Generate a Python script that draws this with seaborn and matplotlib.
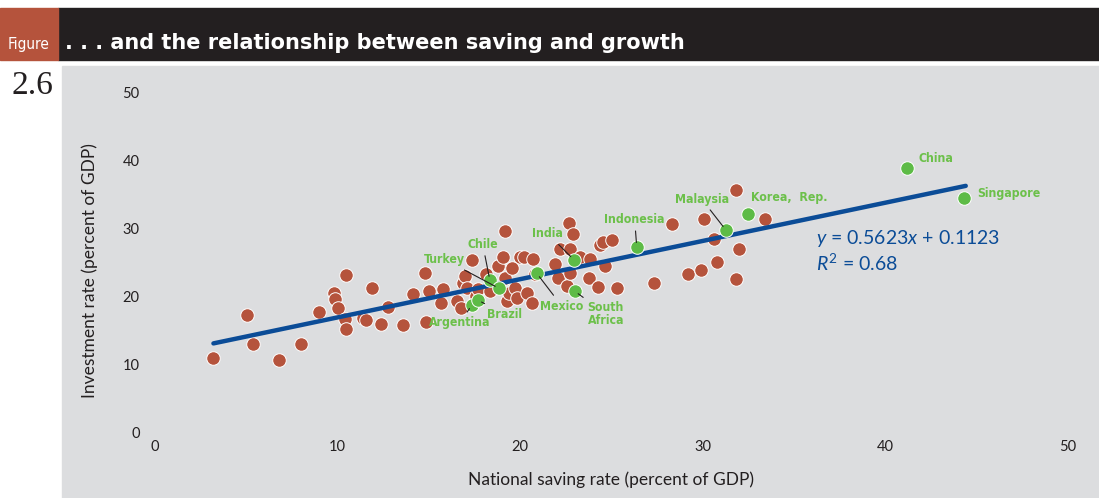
import numpy as np
import pandas as pd
import matplotlib
matplotlib.use("Agg")
import matplotlib.pyplot as plt
import seaborn as sns
from matplotlib.patches import Rectangle

# Dados (percent of GDP)
other_saving = [3.17, 5.04, 5.36, 6.79, 7.99, 8.98, 10.45, 9.80, 9.85, 10.02,
                10.40, 10.45, 11.38, 11.55, 11.88, 12.37, 12.75, 13.57, 14.12, 14.78,
                14.83, 15.00, 15.65, 15.76, 16.53, 16.75, 16.86, 16.97, 17.08, 17.35,
                17.57, 17.68, 18.12, 18.34, 18.77, 19.05, 19.16, 19.16, 19.27, 19.38,
                19.70, 19.81, 19.98, 20.20, 20.36, 20.64, 20.69, 20.80, 19.54, 21.89,
                22.06, 22.17, 22.55, 22.66, 22.71, 22.71, 22.88, 23.26, 23.75, 23.81,
                24.25, 24.36, 24.52, 24.63, 25.01, 25.29, 27.31, 28.30, 29.17, 29.89,
                30.05, 30.60, 30.76, 31.80, 31.80, 31.96, 33.39]
other_invest = [10.93, 17.20, 12.97, 10.64, 12.97, 17.64, 23.03, 20.41, 19.53, 18.22,
                16.62, 15.16, 16.76, 16.47, 21.14, 15.89, 18.37, 15.74, 20.26, 23.32,
                16.18, 20.70, 18.95, 20.99, 19.24, 18.22, 21.87, 22.89, 21.14, 25.36,
                19.97, 20.99, 23.18, 20.70, 24.34, 25.80, 22.59, 29.59, 19.24, 20.41,
                21.14, 19.68, 25.80, 25.80, 20.41, 18.95, 25.51, 23.18, 24.05, 24.64,
                22.59, 26.97, 21.43, 30.76, 26.97, 23.32, 29.15, 25.80, 22.59, 25.51,
                21.28, 27.55, 27.99, 24.34, 28.28, 21.14, 21.87, 30.61, 23.18, 23.76,
                31.34, 28.43, 25.07, 35.57, 22.45, 26.97, 31.34]

named_countries = ["Argentina", "Brazil", "Chile", "Turkey", "Mexico", "India",
                   "South\nAfrica", "Indonesia", "Malaysia", "Korea,  Rep.", "China",
                   "Singapore"]
named_saving = [17.35, 17.68, 18.34, 18.83, 20.91, 22.93, 22.99, 26.38, 31.25, 32.46, 41.21, 44.33]
named_invest = [18.66, 19.39, 22.30, 21.14, 23.32, 25.36, 20.70, 27.26, 29.74, 32.07, 38.78, 34.40]

fit_slope = 0.5623
fit_intercept = 11.23
fit_range = [3.2, 44.4]
x_ticks = [0, 10, 20, 30, 40, 50]
y_ticks = [0, 10, 20, 30, 40, 50]

# Onde ficam os rótulos (posição do texto, alinhamento, linha de chamada)
label_place = {
    "Argentina": ((16.69, 16.03), "center", True),
    "Brazil": ((19.16, 17.35), "center", True),
    "Chile": ((17.95, 27.55), "center", True),
    "Turkey": ((15.87, 25.36), "center", True),
    "Mexico": ((22.28, 18.51), "center", True),
    "India": ((21.51, 29.15), "center", True),
    "South\nAfrica": ((24.69, 17.35), "center", True),
    "Indonesia": ((26.27, 31.20), "center", True),
    "Malaysia": ((29.94, 34.26), "center", True),
    "Korea,  Rep.": ((32.62, 34.55), "left", False),
    "China": ((41.82, 40.23), "left", False),
    "Singapore": ((45.05, 35.13), "left", False),
}

sns.set_theme(style="white")
plt.rcParams['font.family'] = ['Lato', 'DejaVu Sans']
plt.rcParams['mathtext.fontset'] = 'custom'
plt.rcParams['mathtext.rm'] = 'Lato'
plt.rcParams['mathtext.it'] = 'Lato:italic'

red = '#B5533C'
green = '#5DBB46'
label_green = '#6CC04A'
blue = '#0B4C97'
ink = '#231F20'
narrow = ['DejaVu Sans']

W, H = 1099, 498
fig = plt.figure(figsize=(W / 100, H / 100), dpi=100)
fig.patch.set_facecolor('white')

# painel cinza e cabeçalho
fig.add_artist(Rectangle((62 / W, 0), (W - 62) / W, (H - 66) / H,
                         transform=fig.transFigure, color='#DCDDDF', zorder=0))
fig.add_artist(Rectangle((58 / W, (H - 60) / H), 1 - 58 / W, 52 / H,
                         transform=fig.transFigure, color=ink, zorder=0))
fig.add_artist(Rectangle((0, (H - 60) / H), 58 / W, 52 / H,
                         transform=fig.transFigure, color=red, zorder=0))
fig.text(29 / W, 1 - 45 / H, "Figure", color='white', fontsize=11,
         family=narrow, fontstretch='condensed', ha='center', va='center')
fig.text(65 / W, 1 - 43 / H, ". . . and the relationship between saving and growth",
         color='white', fontsize=15, fontweight='bold', family=['DejaVu Sans'],
         ha='left', va='center')
fig.text(32 / W, 1 - 86 / H, "2.6", color=ink, fontsize=24,
         family=['Liberation Serif', 'DejaVu Serif'], ha='center', va='center')

ax = fig.add_axes([155 / W, (H - 432) / H, (1068 - 155) / W, (432 - 92) / H])
ax.set_facecolor('none')

others = pd.DataFrame({'saving': other_saving, 'invest': other_invest})
named = pd.DataFrame({'country': named_countries, 'saving': named_saving,
                      'invest': named_invest})

fit_x = np.array(fit_range)
ax.plot(fit_x, fit_slope * fit_x + fit_intercept, color=blue, lw=3.2,
        solid_capstyle='round', zorder=3)
sns.scatterplot(data=others, x='saving', y='invest', color=red, s=95,
                edgecolor='white', linewidth=0.7, ax=ax, zorder=2)
sns.scatterplot(data=named, x='saving', y='invest', color=green, s=95,
                edgecolor='white', linewidth=0.7, ax=ax, zorder=4)

for _, row in named.iterrows():
    (tx, ty), ha, leader = label_place[row['country']]
    props = None
    if leader:
        props = dict(arrowstyle='-', color=ink, lw=0.8, shrinkA=1, shrinkB=3)
    ax.annotate(row['country'], xy=(row['saving'], row['invest']), xytext=(tx, ty),
                textcoords='data', ha=ha, va='center', color=label_green,
                fontsize=8.8, fontweight='bold', family=narrow,
                fontstretch='condensed', linespacing=1.05, arrowprops=props,
                zorder=5)

ax.text(36.2, 28.4, r'$y$ = 0.5623$x$ + 0.1123', color=blue, fontsize=14,
        ha='left', va='center')
ax.text(36.2, 24.8, r'$R^2$ = 0.68', color=blue, fontsize=14,
        ha='left', va='center')

ax.set_xlim(0, 50)
ax.set_ylim(0, 50)
ax.set_xticks(x_ticks)
ax.set_yticks(y_ticks)
ax.tick_params(axis='x', length=0, pad=6, labelsize=10.5, labelcolor=ink)
ax.tick_params(axis='y', length=0, pad=11, labelsize=10.5, labelcolor=ink)
ax.set_xlabel('')
ax.set_ylabel('')
for s in ax.spines.values():
    s.set_visible(False)

fig.text(611 / W, 1 - 480 / H, "National saving rate (percent of GDP)", color=ink,
         fontsize=12.5, ha='center', va='center')
fig.text(90 / W, 1 - 271 / H, "Investment rate (percent of GDP)", color=ink,
         fontsize=12.5, ha='center', va='center', rotation=90)

fig.savefig('out.png', dpi=100)
